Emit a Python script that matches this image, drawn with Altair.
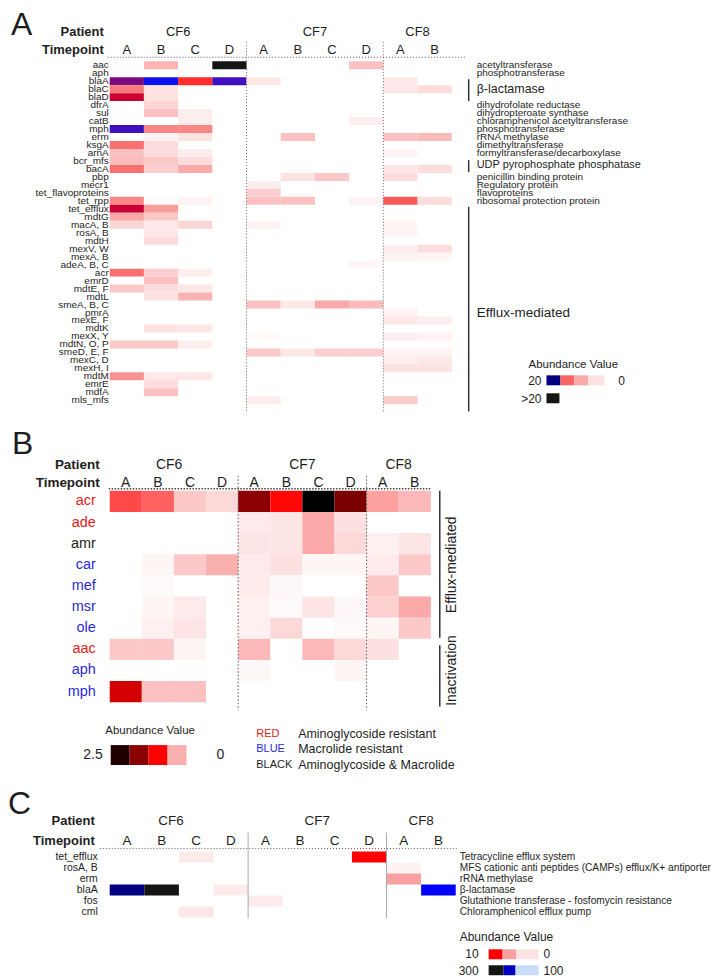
import altair as alt
import pandas as pd

FONT = "Liberation Sans"
INK = "#1e1e1e"
RED_T = "#e3211c"
BLUE_T = "#2a2ad6"

TIMEPOINTS = ["A", "B", "C", "D", "A", "B", "C", "D", "A", "B"]
PATIENTS = ["CF6", "CF7", "CF8"]

# ---------------- Panel A data ----------------
genes_a = ["aac", "aph", "blaA", "blaC", "blaD", "dfrA", "sul", "catB", "mph", "erm",
           "ksgA", "arnA", "bcr_mfs", "bacA", "pbp", "mecr1", "tet_flavoproteins", "tet_rpp",
           "tet_efflux", "mdtG", "macA, B", "rosA, B", "mdtH", "mexV, W", "mexA, B",
           "adeA, B, C", "acr", "emrD", "mdtE, F", "mdtL", "smeA, B, C", "pmrA", "mexE, F",
           "mdtK", "mexX, Y", "mdtN, O, P", "smeD, E, F", "mexC, D", "mexH, I", "mdtM",
           "emrE", "mdfA", "mls_mfs"]
values_a = [
    [0, 6, 0, 25, 0, 0, 0, 5, 0, 0],
    [0, 0, 0, 0, 0, 0, 0, 0, 0, 0],
    [15, 18, 12, 16.5, 2, 0, 0, 0, 2, 0],
    [8.5, 2.5, 0, 0, 0, 0, 0, 0, 2, 3],
    [13, 2.5, 0, 0, 0, 0, 0, 0, 0, 0],
    [0, 3.5, 0, 0, 0, 0, 0, 0, 0, 0],
    [0, 5, 1.5, 0, 0, 0, 0, 0, 0, 0],
    [0, 0, 1.5, 0, 0, 0, 0, 1.5, 0, 0],
    [16.5, 8, 8, 0, 0, 0, 0, 0, 0, 0],
    [0, 1, 2.5, 0, 0, 5, 0, 0, 5, 5.5],
    [9, 3, 0, 0, 0, 0, 0, 0, 0, 0],
    [5, 3, 1.5, 0, 0, 0, 0, 0, 0.8, 0],
    [5.5, 4.5, 3, 0, 0, 0, 0, 0, 0, 0],
    [9, 4, 6.5, 0, 0, 0, 0, 0, 2, 3],
    [0, 0, 0, 0, 0, 2.5, 4.5, 0, 3, 0],
    [0, 0, 0, 0, 1.5, 0, 0, 0, 0, 0],
    [0, 0, 0, 0, 4, 0, 0, 0, 0, 0],
    [8, 0.5, 1, 0, 5, 5, 0, 1, 10, 3],
    [13, 7, 0, 0, 0, 0, 0, 0, 0, 0],
    [6.5, 4.5, 0, 0, 0, 0, 0, 0, 0, 0],
    [3.5, 2, 3.5, 0, 1, 0, 0, 0, 0.8, 0],
    [0, 2, 0, 0, 0, 0, 0, 0, 0.8, 0],
    [0, 3, 0, 0, 0, 0, 0, 0, 0, 0],
    [0, 0, 0, 0, 0, 0, 0, 0, 1.5, 3],
    [0, 0, 0, 0, 0, 0, 0, 0, 1, 0.8],
    [0, 0, 0, 0, 0, 0, 0, 0.8, 0, 0],
    [9, 4, 1.5, 0, 0, 0, 0, 0, 0, 0],
    [0, 5, 0, 0, 0, 0, 0, 0, 0, 0],
    [4.5, 3, 2, 0, 0, 0, 0, 0, 0, 0],
    [0, 2.5, 6, 0, 0, 0, 0, 0, 0, 0],
    [0, 0, 0, 0, 5, 2, 6.5, 5.5, 0, 0],
    [0, 0, 0, 0, 0, 0, 0, 0, 1, 0],
    [0, 0, 0, 0, 0, 0, 0, 0, 2, 1.5],
    [0, 2.5, 2, 0, 0, 0, 0, 0, 0, 0],
    [0, 0, 0, 0, 0.5, 0, 0, 0, 1.5, 1],
    [4.5, 4.5, 1.5, 0, 0, 0, 0, 0, 0, 0],
    [0, 0, 0, 0, 4.5, 2, 4, 4, 1, 1],
    [0, 0, 0, 0, 0, 0, 0, 0, 1.5, 2],
    [0, 0, 0, 0, 0, 0, 0, 0, 2.5, 2.5],
    [7.5, 2, 2, 0, 0, 0, 0, 0, 0, 0],
    [0, 3, 0, 0, 0, 0, 0, 0, 0, 0],
    [0, 5, 0, 0, 0, 0, 0, 0, 0, 0],
    [0, 0, 0, 0, 1.5, 0, 0, 0, 4.5, 0],
]
notes_a = ["acetyltransferase", "phosphotransferase", "β-lactamase", "dihydrofolate reductase",
           "dihydropteroate synthase", "chloramphenicol acetyltransferase", "phosphotransferase",
           "rRNA methylase", "dimethyltransferase", "formyltransferase/decarboxylase",
           "UDP pyrophosphate phosphatase", "penicillin binding protein", "Regulatory protein",
           "flavoproteins", "ribosomal protection protein", "Efflux-mediated"]
notes_a_rows = [0.5, 1.5, 3.5, 5.5, 6.5, 7.5, 8.5, 9.5, 10.5, 11.5, 13.0, 14.5, 15.5, 16.5, 17.5, 31.5]
notes_a_size = [10, 10, 12.5, 10, 10, 10, 10, 10, 10, 10, 11, 10, 10, 10, 10, 13.5]
brackets_a = [[2.25, 5.0], [12.4, 13.9], [18.25, 43.9]]
patient_pos_a = [2.0, 6.0, 9.0]
scale_a_domain = [0, 1, 3, 6, 9, 12, 13, 15, 16.5, 18, 20, 20.5, 30]
scale_a_range = ["#ffffff", "#fef2f2", "#fcdcdc", "#fab4b4", "#f87070", "#ff2c2c", "#cc0033",
                 "#7a0a80", "#4010c0", "#0a10f0", "#000080", "#151515", "#151515"]
legend_a_values = [20, 9.5, 6.5, 2.5]
legend_a_over = 25

# ---------------- Panel B data ----------------
genes_b = ["acr", "ade", "amr", "car", "mef", "msr", "ole", "aac", "aph", "mph"]
label_class_b = ["red", "red", "black", "blue", "blue", "blue", "blue", "red", "blue", "blue"]
values_b = [
    [1.25, 1.1, 0.45, 0.35, 2.1, 1.65, 2.5, 2.15, 0.7, 0.55],
    [0, 0, 0, 0, 0.2, 0.25, 0.65, 0.3, 0, 0],
    [0, 0, 0, 0, 0.25, 0.25, 0.65, 0.35, 0.15, 0.25],
    [0, 0.1, 0.45, 0.6, 0.2, 0.3, 0.1, 0.1, 0.2, 0.45],
    [0, 0.05, 0, 0, 0.2, 0.08, 0, 0, 0.45, 0],
    [0, 0.1, 0.2, 0, 0.15, 0.05, 0.25, 0.08, 0.4, 0.65],
    [0, 0.15, 0.25, 0, 0.15, 0.35, 0, 0.05, 0.1, 0.45],
    [0.45, 0.45, 0.1, 0, 0.55, 0, 0.55, 0.35, 0.3, 0],
    [0, 0, 0, 0, 0.08, 0, 0, 0.1, 0, 0],
    [1.85, 0.5, 0.5, 0, 0, 0, 0, 0, 0, 0],
]
groups_b = ["Efflux-mediated", "Inactivation"]
groups_b_span = [[0, 6.95], [7.3, 10.2]]
groups_b_mid = [3.5, 8.5]
patient_pos_b = [1.85, 6.0, 9.0]
scale_b_domain = [0, 0.3, 0.6, 1.1, 1.7, 2.1, 2.5]
scale_b_range = ["#ffffff", "#fde0e0", "#fbb0b0", "#ff6060", "#ff0000", "#8b0000", "#000000"]
legend_b_values = [2.4, 2.1, 1.7, 0.6]
key_b_words = ["RED", "BLUE", "BLACK"]
key_b_text = ["Aminoglycoside resistant", "Macrolide resistant", "Aminoglycoside & Macrolide"]

# ---------------- Panel C data ----------------
genes_c = ["tet_efflux", "rosA, B", "erm", "blaA", "fos", "cml"]
values_c = [
    [0, 0, 0.8, 0, 0, 0, 0, 10, 0, 0],
    [0, 0, 0, 0, 0, 0, 0, 0, 0.5, 0],
    [0, 0, 0, 0, 0, 0, 0, 0, 5, 0],
    [250, 300, 0, 0.8, 0, 0, 0, 0, 0, 200],
    [0, 0, 0, 0, 0.8, 0, 0, 0, 0, 0],
    [0, 0, 1, 0, 0, 0, 0, 0, 0, 0],
]
notes_c = ["Tetracycline efflux system",
           "MFS cationic anti peptides (CAMPs) efflux/K+ antiporter",
           "rRNA methylase", "β-lactamase",
           "Glutathione transferase - fosfomycin resistance",
           "Chloramphenicol efflux pump"]
patient_pos_c = [1.77, 6.0, 9.0]
scale_c_domain = [0, 1, 5, 10, 100, 200, 250, 300]
scale_c_range = ["#ffffff", "#fde6e6", "#f9a0a0", "#ff0000", "#c8dcf8", "#0000ff", "#000080", "#151515"]
legend_c_red = [10, 5, 1.2]
legend_c_blue = [300, 225, 100]

CLASS_COLORS = {"red": RED_T, "blue": BLUE_T, "black": INK}


# ---------------- helpers ----------------
def one():
    return alt.Chart(pd.DataFrame({"k": [0]}))


def text_at(x, y, s, size, align="left", baseline="middle", bold=False, color=INK, angle=None):
    kw = dict(align=align, baseline=baseline, fontSize=size, font=FONT, color=color)
    if bold:
        kw["fontWeight"] = "bold"
    if angle is not None:
        kw["angle"] = angle
    return one().mark_text(**kw).encode(x=alt.value(x), y=alt.value(y), text=alt.value(s))


def hline(x0, x1, y, color="#555555", dash=(1, 2), width=1.0):
    kw = dict(color=color, strokeWidth=width)
    if dash:
        kw["strokeDash"] = list(dash)
    return one().mark_rule(**kw).encode(x=alt.value(x0), x2=alt.value(x1), y=alt.value(y))


def swatch(x0, x1, y0, y1, v, cscale):
    return alt.Chart(pd.DataFrame({"v": [v]})).mark_rect().encode(
        x=alt.value(x0), x2=alt.value(x1), y=alt.value(y0), y2=alt.value(y1),
        color=alt.Color("v:Q", scale=cscale, legend=None))


def heat(genes, values, cscale, xs, ys):
    recs = []
    for r, g in enumerate(genes):
        for c, v in enumerate(values[r]):
            recs.append(dict(gene=g, r0=r, r1=r + 1, c0=c, c1=c + 1, v=v))
    return alt.Chart(pd.DataFrame(recs)).transform_filter("datum.v > 0").mark_rect().encode(
        x=alt.X("c0:Q", scale=xs, axis=None), x2="c1:Q",
        y=alt.Y("r0:Q", scale=ys, axis=None), y2="r1:Q",
        color=alt.Color("v:Q", scale=cscale, legend=None))


def row_labels(genes, colors, ys, dx, size):
    df = pd.DataFrame({"gene": genes, "ym": [i + 0.5 for i in range(len(genes))], "tc": colors})
    return alt.Chart(df).mark_text(align="right", baseline="middle", font=FONT, fontSize=size).encode(
        x=alt.value(dx), y=alt.Y("ym:Q", scale=ys, axis=None), text="gene:N",
        fill=alt.Fill("tc:N", scale=None))


def header(xs, ppos, yp, yt, size_p, size_t, dx_lab, yp_lab, yt_lab, size_lab):
    dfp = pd.DataFrame({"p": PATIENTS, "x": ppos})
    dft = pd.DataFrame({"t": TIMEPOINTS, "x": [i + 0.5 for i in range(10)]})
    l1 = alt.Chart(dfp).mark_text(fontSize=size_p, font=FONT, color=INK, baseline="middle").encode(
        x=alt.X("x:Q", scale=xs, axis=None), y=alt.value(yp), text="p:N")
    l2 = alt.Chart(dft).mark_text(fontSize=size_t, font=FONT, color=INK, baseline="middle").encode(
        x=alt.X("x:Q", scale=xs, axis=None), y=alt.value(yt), text="t:N")
    l3 = text_at(dx_lab, yp_lab, "Patient", size_lab, align="right", bold=True)
    l4 = text_at(dx_lab, yt_lab, "Timepoint", size_lab, align="right", bold=True)
    return [l1, l2, l3, l4]


def separators(xs, y0, y1, color, dash, width=1.0):
    kw = dict(color=color, strokeWidth=width)
    if dash:
        kw["strokeDash"] = list(dash)
    return alt.Chart(pd.DataFrame({"x": [4, 8]})).mark_rule(**kw).encode(
        x=alt.X("x:Q", scale=xs, axis=None), y=alt.value(y0), y2=alt.value(y1))


def brackets(spans, xpx, ys, width=1.5):
    df = pd.DataFrame({"a": [s[0] for s in spans], "b": [s[1] for s in spans]})
    return alt.Chart(df).mark_rule(color="#333333", strokeWidth=width).encode(
        x=alt.value(xpx), y=alt.Y("a:Q", scale=ys, axis=None), y2="b:Q")


def color_scale(domain, rng):
    return alt.Scale(domain=domain, range=rng, type="linear", clamp=True, nice=False,
                     zero=False, interpolate="rgb")


# ---------------- Panel A ----------------
WA, HA = 343, 344
xs_a = alt.Scale(domain=[0, 10], nice=False, zero=False)
ys_a = alt.Scale(domain=[0, len(genes_a)], reverse=True, nice=False, zero=False)
cs_a = color_scale(scale_a_domain, scale_a_range)

notes_a_df = pd.DataFrame({"t": notes_a, "ym": notes_a_rows, "fs": notes_a_size})
layers_a = [
    heat(genes_a, values_a, cs_a, xs_a, ys_a),
    row_labels(genes_a, [INK] * len(genes_a), ys_a, -1, 10),
    *header(xs_a, patient_pos_a, -29, -11, 13, 13, -6, -29, -11, 13),
    hline(-2, WA + 13, -4),
    separators(xs_a, -19, 351, "#666666", (1, 2)),
    brackets(brackets_a, WA + 17, ys_a),
    alt.Chart(notes_a_df).mark_text(align="left", baseline="middle", font=FONT, color=INK).encode(
        x=alt.value(WA + 25), y=alt.Y("ym:Q", scale=ys_a, axis=None), text="t:N",
        size=alt.Size("fs:Q", scale=None)),
    text_at(-99, -51, "A", 32, baseline="top"),
    text_at(420, 305, "Abundance Value", 11.5),
    text_at(433, 321, "20", 12, align="right"),
    text_at(510, 321, "0", 12),
    text_at(433, 339, ">20", 12, align="right"),
    swatch(438, 452, 315, 325, legend_a_values[0], cs_a),
    swatch(452, 466, 315, 325, legend_a_values[1], cs_a),
    swatch(466, 480, 315, 325, legend_a_values[2], cs_a),
    swatch(480, 496, 315, 325, legend_a_values[3], cs_a),
    swatch(438, 451, 333, 343, legend_a_over, cs_a),
]
panel_a = alt.layer(*layers_a).properties(width=WA, height=HA)

# ---------------- Panel B ----------------
WB, HB = 322, 212
xs_b = alt.Scale(domain=[0, 10], nice=False, zero=False)
ys_b = alt.Scale(domain=[0, len(genes_b)], reverse=True, nice=False, zero=False)
cs_b = color_scale(scale_b_domain, scale_b_range)

groups_b_df = pd.DataFrame({"g": groups_b, "ym": groups_b_mid})
layers_b = [
    heat(genes_b, values_b, cs_b, xs_b, ys_b),
    row_labels(genes_b, [CLASS_COLORS[c] for c in label_class_b], ys_b, -14, 14.5),
    *header(xs_b, patient_pos_b, -26, -8, 14, 14, -10, -26, -8, 13.5),
    hline(-1, WB, -2, color="#444444", dash=(1.5, 1.5), width=1.5),
    separators(xs_b, -15, 220, "#555555", (1.5, 2)),
    brackets(groups_b_span, WB + 9, ys_b),
    alt.Chart(groups_b_df).mark_text(align="center", baseline="middle", font=FONT, color=INK,
                                     fontSize=14, angle=270).encode(
        x=alt.value(WB + 21), y=alt.Y("ym:Q", scale=ys_b, axis=None), text="g:N"),
    text_at(-98, -62, "B", 32, baseline="top"),
    text_at(40.5, 241, "Abundance Value", 11.5, align="center"),
    text_at(-7, 265, "2.5", 14, align="right"),
    text_at(107, 265, "0", 14),
    swatch(1, 20, 255, 275, legend_b_values[0], cs_b),
    swatch(20, 39, 255, 275, legend_b_values[1], cs_b),
    swatch(39, 58, 255, 275, legend_b_values[2], cs_b),
    swatch(58, 77, 255, 275, legend_b_values[3], cs_b),
    text_at(147, 244, key_b_words[0], 11, color=RED_T),
    text_at(147, 259, key_b_words[1], 11, color=BLUE_T),
    text_at(147, 275, key_b_words[2], 11),
    text_at(189, 244, key_b_text[0], 12.5),
    text_at(189, 259, key_b_text[1], 12.5),
    text_at(189, 275, key_b_text[2], 12.5),
]
panel_b = alt.layer(*layers_b).properties(width=WB, height=HB)

# ---------------- Panel C ----------------
WC, HC = 347, 66
xs_c = alt.Scale(domain=[0, 10], nice=False, zero=False)
ys_c = alt.Scale(domain=[0, len(genes_c)], reverse=True, nice=False, zero=False)
cs_c = color_scale(scale_c_domain, scale_c_range)

notes_c_df = pd.DataFrame({"t": notes_c, "ym": [i + 0.5 for i in range(len(notes_c))]})
layers_c = [
    heat(genes_c, values_c, cs_c, xs_c, ys_c),
    row_labels(genes_c, [INK] * len(genes_c), ys_c, -12, 10.5),
    *header(xs_c, patient_pos_c, -31, -11, 13.5, 13.5, -15, -31, -11, 13),
    hline(-10, WC + 3, -3),
    separators(xs_c, -19, 67, "#aaaaaa", None),
    alt.Chart(notes_c_df).mark_text(align="left", baseline="middle", font=FONT, color=INK,
                                    fontSize=10.2).encode(
        x=alt.value(WC + 4), y=alt.Y("ym:Q", scale=ys_c, axis=None), text="t:N"),
    text_at(-102, -63, "C", 32, baseline="top"),
    text_at(351, 86, "Abundance Value", 12),
    text_at(370, 103, "10", 12, align="right"),
    text_at(370, 120, "300", 12, align="right"),
    text_at(435, 103, "0", 12),
    text_at(435, 120, "100", 12),
    swatch(380, 394, 98, 108, legend_c_red[0], cs_c),
    swatch(394, 408, 98, 108, legend_c_red[1], cs_c),
    swatch(408, 430, 98, 108, legend_c_red[2], cs_c),
    swatch(380, 395, 114, 124, legend_c_blue[0], cs_c),
    swatch(395, 407, 114, 124, legend_c_blue[1], cs_c),
    swatch(407, 430, 114, 124, legend_c_blue[2], cs_c),
]
panel_c = alt.layer(*layers_c).properties(width=WC, height=HC)

chart = (
    alt.vconcat(panel_a, panel_b, panel_c, spacing=15.8)
    .resolve_scale(color="independent", x="independent", y="independent")
    .properties(padding=0)
    .configure_view(stroke=None)
)

chart.save("out.html", embed_options={"renderer": "svg", "actions": False})
